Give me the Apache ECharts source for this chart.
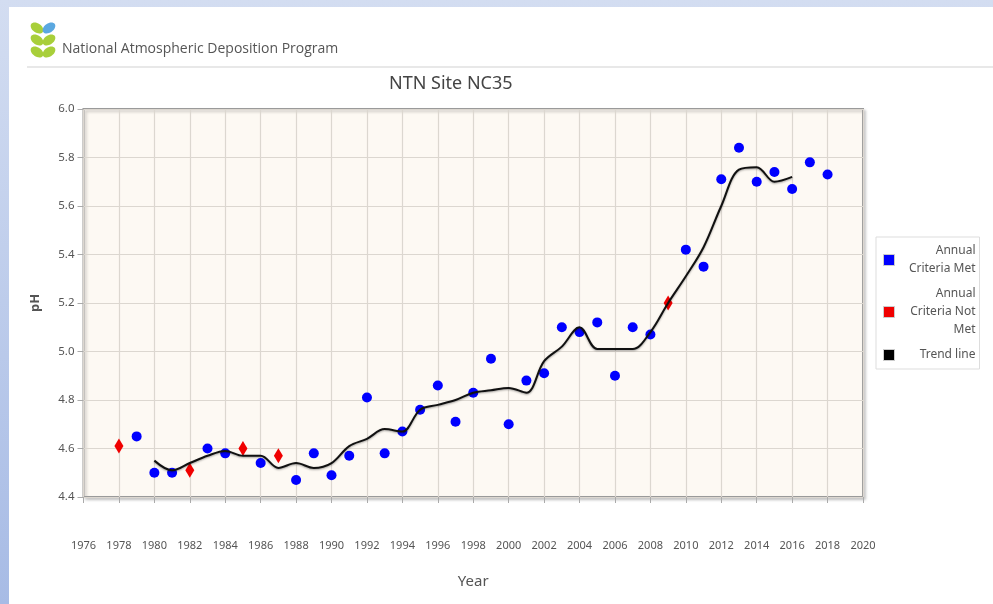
<!DOCTYPE html>
<html>
<head>
<meta charset="utf-8">
<title>NTN Site NC35</title>
<script src="https://cdn.jsdelivr.net/npm/echarts@6/dist/echarts.min.js"></script>
<style>
    html, body { margin: 0; padding: 0; width: 993px; height: 604px; overflow: hidden; }
    body { background: linear-gradient(to bottom, #d3ddf1, #a7bbe5); position: relative; }
    #panel { position: absolute; left: 9px; top: 7px; right: 0; bottom: 0; background: #ffffff; }
    #char1 { position: absolute; left: 0; top: 0; width: 993px; height: 604px; }
</style>
</head>
<body>
<div id="panel"></div>
<div id="char1"></div>
<script>
// annual pH, criteria met
var yearsMet = [1979, 1980, 1981, 1983, 1984, 1986, 1988, 1989, 1990, 1991, 1992, 1993, 1994, 1995,
    1996, 1997, 1998, 1999, 2000, 2001, 2002, 2003, 2004, 2005, 2006, 2007, 2008, 2010, 2011,
    2012, 2013, 2014, 2015, 2016, 2017, 2018];
var phMet = [4.65, 4.50, 4.50, 4.60, 4.58, 4.54, 4.47, 4.58, 4.49, 4.57, 4.81, 4.58, 4.67, 4.76,
    4.86, 4.71, 4.83, 4.97, 4.70, 4.88, 4.91, 5.10, 5.08, 5.12, 4.90, 5.10, 5.07, 5.42, 5.35,
    5.71, 5.84, 5.70, 5.74, 5.67, 5.78, 5.73];

// annual pH, criteria not met
var yearsNotMet = [1978, 1982, 1985, 1987, 2009];
var phNotMet = [4.61, 4.51, 4.60, 4.57, 5.20];

// trend line
var trendYears = [1980, 1981, 1982, 1983, 1984, 1985, 1986, 1987, 1988, 1989, 1990, 1991, 1992,
    1993, 1994, 1995, 1996, 1997, 1998, 1999, 2000, 2001, 2002, 2003, 2004, 2005, 2006, 2007,
    2008, 2009, 2010, 2011, 2012, 2013, 2014, 2015, 2016];
var trendPh = [4.55, 4.51, 4.54, 4.57, 4.59, 4.57, 4.57, 4.52, 4.54, 4.52, 4.54, 4.61, 4.64,
    4.68, 4.67, 4.76, 4.78, 4.80, 4.83, 4.84, 4.85, 4.83, 4.96, 5.02, 5.10, 5.01, 5.01, 5.01,
    5.08, 5.20, 5.31, 5.43, 5.60, 5.75, 5.76, 5.70, 5.72];

var legendNames = ["Annual\nCriteria Met", "Annual\nCriteria Not\nMet", "Trend line"];

function pairs(xs, ys) {
    return xs.map(function (x, i) { return [x, ys[i]]; });
}

// one leaf of the logo
function leaf(x, y, rot, color) {
    return {
        type: "ellipse",
        x: x, y: y, rotation: rot,
        shape: { cx: 0, cy: 0, rx: 7, ry: 4.6 },
        style: { fill: color }
    };
}

char1();

function char1() {
    var myChart = echarts.init(document.getElementById("char1"));
    var axisFont = { fontFamily: "Noto Sans", fontSize: 11, color: "#555" };

    var option = {
        animation: false,
        textStyle: { fontFamily: "Noto Sans" },
        title: {
            text: "NTN Site NC35",
            left: 384,
            top: 70,
            textStyle: { fontFamily: "Noto Sans", fontSize: 18, fontWeight: "normal", color: "#444" }
        },
        graphic: [
            leaf(37, 28, -0.6, "#a8cf3a"),
            leaf(49, 28, 0.6, "#5ba8e0"),
            leaf(37, 40, -0.6, "#a8cf3a"),
            leaf(49, 40, 0.6, "#a8cf3a"),
            leaf(37, 52, -0.6, "#a8cf3a"),
            leaf(49, 52, 0.6, "#a8cf3a"),
            {
                type: "text",
                x: 62, y: 49,
                style: {
                    text: "National Atmospheric Deposition Program",
                    fontFamily: "Open Sans", fontSize: 14, fill: "#555",
                    verticalAlign: "middle"
                }
            },
            {
                type: "line",
                shape: { x1: 27, y1: 67, x2: 993, y2: 67 },
                style: { stroke: "#e0e0e0", lineWidth: 1.5 }
            }
        ],
        legend: {
            orient: "vertical",
            left: 876,
            top: 237,
            icon: "rect",
            itemWidth: 11,
            itemHeight: 11,
            itemGap: 13,
            padding: [8, 4, 8, 7],
            borderColor: "#dddddd",
            borderWidth: 1,
            itemStyle: { borderColor: "#cccccc", borderWidth: 1 },
            data: legendNames,
            formatter: function (name) {
                return name.split("\n").map(function (s) { return "{t|" + s + "}"; }).join("\n");
            },
            textStyle: {
                rich: {
                    t: { width: 76, align: "right", fontSize: 12, lineHeight: 18, color: "#555", fontFamily: "Noto Sans" }
                }
            }
        },
        grid: {
            left: 83.5,
            top: 109,
            width: 779.5,
            height: 388,
            show: true,
            backgroundColor: "#fdf9f3",
            borderColor: "#9a9a9a",
            borderWidth: 2,
            shadowColor: "rgba(0,0,0,0.2)",
            shadowBlur: 3,
            shadowOffsetX: 2,
            shadowOffsetY: 2
        },
        xAxis: {
            type: "value",
            min: 1976,
            max: 2020,
            interval: 2,
            name: "Year",
            nameLocation: "middle",
            nameGap: 77,
            nameTextStyle: { fontFamily: "Noto Sans", fontSize: 15, color: "#555" },
            axisLine: { show: false },
            axisTick: { show: true, length: 6, lineStyle: { color: "#aaa" } },
            axisLabel: Object.assign({
                margin: 43,
                formatter: function (v) { return String(v); }
            }, axisFont),
            splitLine: { show: true, lineStyle: { color: "#dcd7d0", width: 1.2 } }
        },
        yAxis: {
            type: "value",
            min: 4.4,
            max: 6.0,
            interval: 0.2,
            name: "pH",
            nameLocation: "middle",
            nameGap: 42,
            nameTextStyle: { fontFamily: "Noto Sans", fontSize: 13, fontWeight: "bold", color: "#555" },
            axisLine: { show: false },
            axisTick: { show: true, length: 6, lineStyle: { color: "#aaa" } },
            axisLabel: {
                margin: 9,
                fontSize: 11.5,
                fontFamily: "Noto Sans",
                color: "#555",
                formatter: function (v) { return v.toFixed(1); }
            },
            splitLine: { show: true, lineStyle: { color: "#dcd7d0", width: 1.2 } }
        },
        series: [
            {
                name: legendNames[0],
                type: "scatter",
                symbol: "circle",
                symbolSize: 10,
                itemStyle: { color: "#0000ff", opacity: 1 },
                data: pairs(yearsMet, phMet)
            },
            {
                name: legendNames[1],
                type: "scatter",
                symbol: "diamond",
                symbolSize: [9, 15],
                itemStyle: { color: "#f00000", opacity: 1 },
                data: pairs(yearsNotMet, phNotMet)
            },
            {
                name: legendNames[2],
                type: "line",
                smooth: 0.35,
                showSymbol: false,
                itemStyle: { color: "#000000" },
                lineStyle: {
                    color: "#111111",
                    width: 2,
                    shadowColor: "rgba(0,0,0,0.35)",
                    shadowBlur: 2,
                    shadowOffsetY: 1
                },
                data: pairs(trendYears, trendPh)
            }
        ]
    };

    myChart.setOption(option);
    window.addEventListener("resize", function () {
        myChart.resize();
    });
}
</script>
</body>
</html>
